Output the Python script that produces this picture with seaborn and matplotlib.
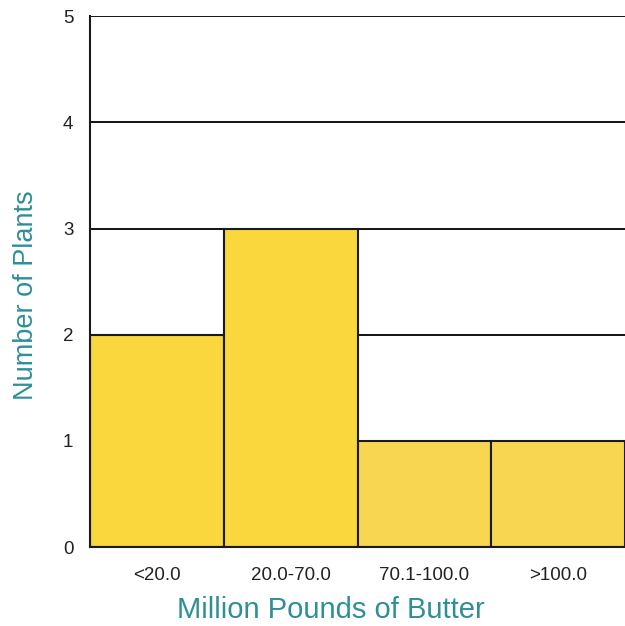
import matplotlib
matplotlib.use("Agg")
import matplotlib.pyplot as plt
import seaborn as sns
import pandas as pd

categories = ["<20.0", "20.0-70.0", "70.1-100.0", ">100.0"]
plants = [2, 3, 1, 1]
y_ticks = [0, 1, 2, 3, 4, 5]

sns.set_style("white")
plt.rcParams["font.family"] = ["Liberation Sans", "DejaVu Sans"]

df = pd.DataFrame({"range": categories, "plants": plants})

fig = plt.figure(figsize=(6.25, 6.26), dpi=100)
ax = fig.add_axes([0.144, 0.126, 0.856, 0.848])

for y in y_ticks[1:]:
    ax.axhline(y, color="black", lw=1.3, zorder=0)

sns.barplot(data=df, x="range", y="plants", ax=ax, width=1.0,
            color="#F8D647", edgecolor="#1a1a1a", linewidth=1.5,
            saturation=1, zorder=2)
bar_colors = ["#FAD73C", "#FAD73C", "#F8D652", "#F8D652"]
for patch, c in zip(ax.patches, bar_colors):
    patch.set_facecolor(c)

ax.set_xlim(-0.5, 3.5)
ax.set_ylim(0, 5)
ax.set_yticks(y_ticks)
ax.set_yticklabels([str(v) for v in y_ticks], fontsize=13.5, color="#222222")
ax.set_xticks(range(len(categories)))
ax.set_xticklabels(categories, fontsize=13.5, color="#222222")
ax.set_xticks([0.5 + i for i in range(-1, 4)], minor=True)
ax.tick_params(axis="x", which="major", length=0, pad=14)
ax.tick_params(axis="x", which="minor", length=4, width=1, color="#555555", direction="out")
ax.tick_params(axis="y", length=4, width=1, color="#555555", direction="out", pad=8)

for side in ["top", "right"]:
    ax.spines[side].set_visible(False)
for side in ["left", "bottom"]:
    ax.spines[side].set_color("#1a1a1a")
    ax.spines[side].set_linewidth(1.5)

teal = "#2E8F98"
ax.set_xlabel("Million Pounds of Butter", fontsize=21, color=teal)
ax.xaxis.set_label_coords(0.45, -0.093)
ax.set_ylabel("Number of Plants", fontsize=19.5, color=teal)
ax.yaxis.set_label_coords(-0.096, 0.475)

fig.savefig("out.png", dpi=100, facecolor="white")
